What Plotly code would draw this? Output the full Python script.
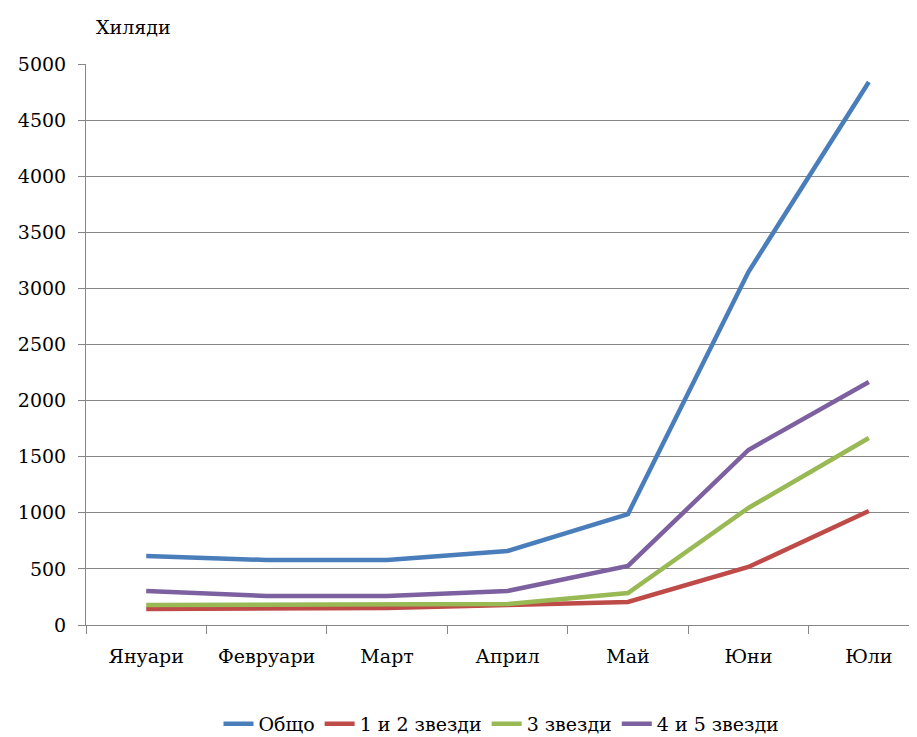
import plotly.graph_objects as go

months = ["Януари", "Февруари", "Март", "Април", "Май", "Юни", "Юли"]
total = [615, 579, 579, 660, 989, 3146, 4840]
stars_1_2 = [143, 151, 151, 178, 205, 517, 1016]
stars_3 = [178, 178, 178, 187, 285, 1043, 1667]
stars_4_5 = [303, 258, 258, 303, 526, 1560, 2166]

series = [
    ("Общо", total, "#4A7EBB"),
    ("1 и 2 звезди", stars_1_2, "#BE4B48"),
    ("3 звезди", stars_3, "#98B954"),
    ("4 и 5 звезди", stars_4_5, "#7D60A0"),
]

font_family = "DejaVu Serif"
FS = 19

# page body has an 8px margin: figure origin sits at (8, 8) in the screenshot
W, H = 909, 729
L, T = 86 - 8, 64 - 8
B = H - (625 - 8)
PW = W - L
PH = H - T - B

fig = go.Figure()
for name, vals, color in series:
    fig.add_trace(go.Scatter(
        x=months, y=vals, name=name, mode="lines",
        line=dict(color=color, width=4.5),
    ))

fig.update_layout(
    width=W, height=H,
    margin=dict(l=L, r=0, t=T, b=B, autoexpand=False),
    paper_bgcolor="white", plot_bgcolor="white",
    font=dict(family=font_family, size=FS, color="black"),
    showlegend=True,
    legend=dict(orientation="h", x=0.5, xanchor="center",
                y=-(724 - 625) / PH, yanchor="middle",
                font=dict(family=font_family, size=FS), itemwidth=30,
                traceorder="normal"),
    xaxis=dict(
        type="category", range=[-0.5, 6.4], automargin=False,
        showgrid=False, showline=True, linecolor="#868686", linewidth=1,
        ticks="outside", ticklen=8, tickcolor="#868686", tickson="boundaries",
        tickfont=dict(family=font_family, size=FS), ticklabelstandoff=14,
        tickangle=0,
    ),
    yaxis=dict(
        range=[0, 5000], dtick=500, automargin=False,
        showgrid=True, gridcolor="#868686", gridwidth=1,
        showline=True, linecolor="#868686", linewidth=1,
        ticks="outside", ticklen=7, tickcolor="#868686",
        tickfont=dict(family=font_family, size=FS), zeroline=False,
        ticklabelstandoff=8,
    ),
    annotations=[dict(
        text="Хиляди", xref="paper", yref="paper",
        x=(94 - 86) / PW, xanchor="left",
        y=1 + (64 - 27) / PH, yanchor="middle",
        showarrow=False, font=dict(family=font_family, size=FS),
    )],
)

fig.write_html("out.html")
